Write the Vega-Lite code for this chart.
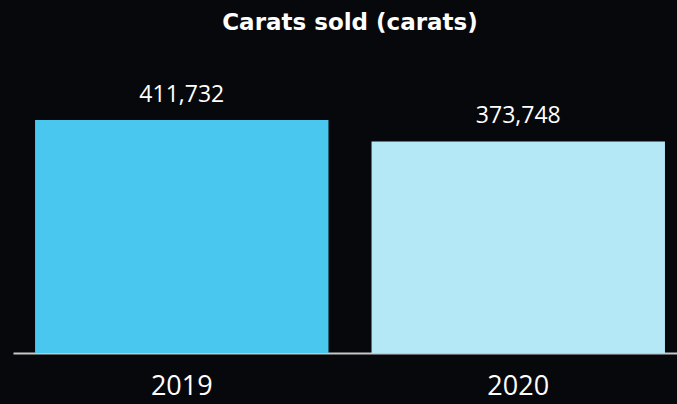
{
  "$schema": "https://vega.github.io/schema/vega-lite/v6.json",
  "width": 674,
  "height": 293,
  "autosize": {"type": "none"},
  "padding": {"left": 13, "top": 60, "right": 0, "bottom": 51},
  "background": "#07080b",
  "title": {
    "text": "Carats sold (carats)",
    "font": "DejaVu Sans",
    "fontSize": 23,
    "fontWeight": "bold",
    "color": "#ffffff",
    "anchor": "middle",
    "offset": 25
  },
  "data": {
    "values": [
      {"year": "2019", "carats": 411732},
      {"year": "2020", "carats": 373748}
    ]
  },
  "encoding": {
    "x": {
      "field": "year",
      "type": "nominal",
      "sort": null,
      "scale": {"paddingInner": 0.128, "paddingOuter": 0.0655},
      "axis": {
        "title": null,
        "labelAngle": 0,
        "ticks": false,
        "labelFont": "Open Sans",
        "labelFontSize": 27,
        "labelColor": "#ffffff",
        "labelPadding": 20,
        "domainColor": "#c8c8c8",
        "domainWidth": 2,
        "grid": false
      }
    },
    "y": {
      "field": "carats",
      "type": "quantitative",
      "scale": {"domain": [0, 517760], "nice": false, "zero": true},
      "axis": null
    }
  },
  "layer": [
    {
      "mark": {"type": "bar"},
      "encoding": {
        "color": {
          "field": "year",
          "type": "nominal",
          "scale": {"domain": ["2019", "2020"], "range": ["#4ac7ee", "#b5e8f6"]},
          "legend": null
        }
      }
    },
    {
      "mark": {"type": "text", "dy": -18, "baseline": "alphabetic", "font": "Open Sans", "fontSize": 23, "color": "#ffffff"},
      "encoding": {
        "text": {"field": "carats", "type": "quantitative", "format": ","}
      }
    }
  ],
  "config": {"view": {"stroke": null}}
}
